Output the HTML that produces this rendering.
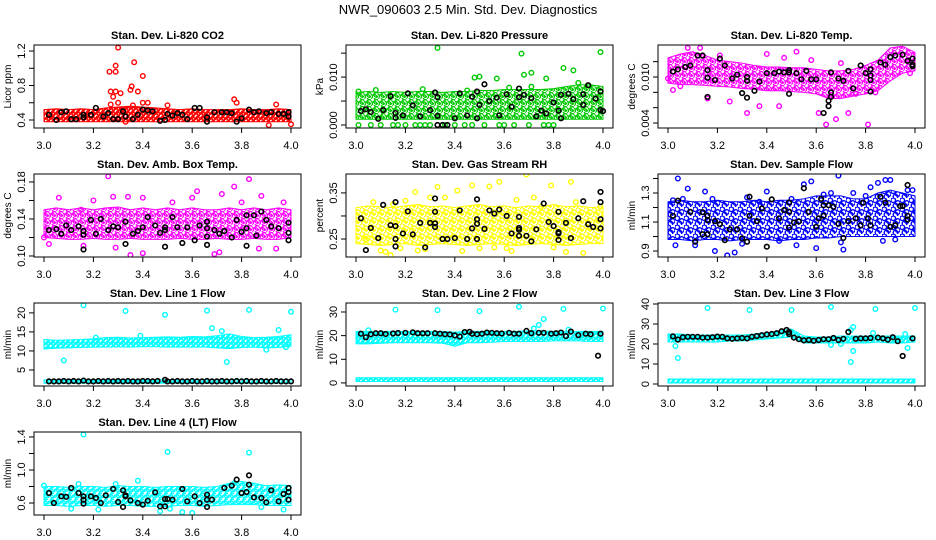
<!DOCTYPE html>
<html><head><meta charset="utf-8"><style>
html,body{margin:0;padding:0;background:#fff;}
svg{display:block;font-family:"Liberation Sans",sans-serif;}
</style></head><body>
<svg id="chart" width="936" height="540" viewBox="0 0 936 540" xmlns="http://www.w3.org/2000/svg">
<rect width="936" height="540" fill="#fff"/>
<text x="468" y="14" text-anchor="middle" font-size="13">NWR_090603  2.5 Min. Std. Dev. Diagnostics</text>
</svg>
<script>
const binX=[3.0,3.05,3.1,3.15,3.2,3.25,3.3,3.35,3.4,3.45,3.5,3.55,3.6,3.65,3.7,3.75,3.8,3.85,3.9,3.95,4.0];
const xTicks=[3.0,3.2,3.4,3.6,3.8,4.0];
const xTickLabels=["3.0","3.2","3.4","3.6","3.8","4.0"];

// P1 CO2
const p1Lo=[0.38,0.38,0.38,0.38,0.38,0.38,0.38,0.38,0.38,0.38,0.38,0.38,0.38,0.38,0.38,0.38,0.38,0.38,0.38,0.38,0.38];
const p1Hi=[0.52,0.53,0.52,0.53,0.52,0.54,0.55,0.56,0.55,0.54,0.53,0.52,0.53,0.52,0.52,0.52,0.53,0.52,0.52,0.53,0.52];
const p1Pts=[[3.30,1.24],[3.29,1.03],[3.365,1.07],[3.265,0.96],[3.29,0.96],[3.40,0.91],[3.355,0.79],[3.35,0.75],[3.38,0.73],[3.27,0.73],[3.29,0.73],[3.31,0.71],[3.28,0.67],[3.40,0.60],[3.42,0.60],[3.77,0.64],[3.78,0.60],[3.94,0.58],[3.91,0.34],[4.0,0.35],[3.33,0.38],[3.50,0.57],[3.27,0.58],[3.30,0.60],[3.36,0.57]];
const p1Blk=[[3.02,0.46],[3.05,0.40],[3.07,0.49],[3.09,0.50],[3.11,0.41],[3.13,0.41],[3.16,0.43],[3.16,0.46],[3.19,0.46],[3.21,0.54],[3.24,0.44],[3.26,0.48],[3.28,0.41],[3.30,0.41],[3.32,0.50],[3.33,0.44],[3.36,0.41],[3.38,0.46],[3.40,0.52],[3.42,0.51],[3.44,0.50],[3.47,0.39],[3.49,0.40],[3.50,0.47],[3.52,0.45],[3.54,0.48],[3.56,0.46],[3.58,0.41],[3.61,0.54],[3.63,0.54],[3.66,0.43],[3.66,0.38],[3.69,0.49],[3.72,0.49],[3.74,0.49],[3.76,0.48],[3.78,0.38],[3.80,0.42],[3.83,0.52],[3.85,0.49],[3.87,0.50],[3.90,0.48],[3.92,0.49],[3.95,0.47],[3.97,0.47],[3.99,0.49],[3.99,0.44]];
const p1Ticks=[0.4,0.6,0.8,1.0,1.2];const p1Labels=["0.4","","0.8","","1.2"];

// P2 Pressure
const p2Lo=[0.0012,0.0012,0.0012,0.0012,0.0012,0.0012,0.0012,0.0012,0.0012,0.0012,0.0012,0.0012,0.0012,0.0012,0.0012,0.0012,0.0012,0.0012,0.0012,0.0012,0.0012];
const p2Hi=[0.0068,0.0070,0.0068,0.0070,0.0068,0.0070,0.0070,0.0068,0.0070,0.0070,0.0072,0.0072,0.0074,0.0074,0.0074,0.0074,0.0076,0.0080,0.0084,0.0084,0.0080];
const p2Pts=[[3.33,0.0161],[3.67,0.0149],[3.99,0.0152],[3.84,0.0119],[3.88,0.0114],[3.71,0.0109],[3.68,0.0105],[3.50,0.0101],[3.48,0.0099],[3.57,0.0097],[3.77,0.0097],[3.01,0],[3.06,0],[3.10,0],[3.15,0],[3.17,0],[3.20,0],[3.24,0],[3.26,0],[3.28,0],[3.30,0],[3.36,0],[3.40,0],[3.44,0],[3.47,0],[3.52,0],[3.58,0],[3.60,0],[3.64,0],[3.70,0],[3.76,0],[3.78,0],[3.80,0],[3.01,0.0070],[3.08,0.0073],[3.27,0.0075],[3.45,0.0072],[3.62,0.0078],[3.71,0.0080],[3.90,0.0088]];
const p2Blk=[[3.02,0.0029],[3.04,0.0033],[3.06,0.0027],[3.09,0.0013],[3.11,0.0031],[3.14,0.0060],[3.16,0.0025],[3.16,0.0015],[3.19,0.0020],[3.21,0.0066],[3.23,0.0041],[3.26,0.0018],[3.30,0.0031],[3.32,0.0068],[3.33,0.0058],[3.33,0.0019],[3.33,0],[3.35,0],[3.37,0],[3.40,0.0014],[3.42,0.0066],[3.45,0.0020],[3.47,0.0059],[3.49,0.0070],[3.50,0.0042],[3.49,0.0014],[3.52,0.0085],[3.54,0.0050],[3.57,0.0057],[3.58,0.0020],[3.61,0.0064],[3.63,0.0038],[3.66,0.0076],[3.66,0.0058],[3.68,0.0063],[3.71,0.0056],[3.73,0.0018],[3.75,0.0030],[3.77,0.0024],[3.80,0.0047],[3.82,0.0030],[3.83,0.0014],[3.83,0.0063],[3.86,0.0065],[3.88,0.0054],[3.92,0.0042],[3.92,0.0064],[3.94,0.0083],[3.97,0.0055],[3.99,0.0031],[3.99,0.0070],[4.0,0.0029]];
const p2Ticks=[0,0.005,0.010,0.015];const p2Labels=["0.000","","0.010",""];

// P3 Temp
const p3Lo=[0.0092,0.0090,0.0090,0.0089,0.0088,0.0087,0.0085,0.0084,0.0082,0.0082,0.0081,0.0080,0.0078,0.0072,0.0072,0.0075,0.0078,0.0082,0.0095,0.0105,0.0108];
const p3Hi=[0.0125,0.0130,0.0133,0.0128,0.0122,0.0120,0.0118,0.0115,0.0113,0.0113,0.0112,0.0112,0.0110,0.0108,0.0108,0.0110,0.0115,0.0122,0.0138,0.0140,0.0132];
const p3Pts=[[3.02,0.0083],[3.05,0.0088],[3.16,0.0072],[3.25,0.0068],[3.32,0.0053],[3.37,0.0062],[3.45,0.0062],[3.61,0.0053],[3.64,0.0038],[3.68,0.0045],[3.81,0.0038],[3.73,0.0053],[3.40,0.0130],[3.52,0.0133],[3.47,0.0125],[3.00,0.0098],[3.08,0.0138],[3.13,0.0138],[3.21,0.0128],[3.58,0.0122],[3.70,0.0118],[3.76,0.0078],[3.84,0.0080],[3.98,0.0105]];
const p3Blk=[[3.02,0.0107],[3.04,0.0110],[3.07,0.0113],[3.09,0.0115],[3.12,0.0128],[3.14,0.0128],[3.16,0.0109],[3.16,0.0099],[3.16,0.0074],[3.19,0.0096],[3.21,0.0124],[3.23,0.0115],[3.26,0.0098],[3.28,0.0103],[3.30,0.0079],[3.32,0.0073],[3.32,0.0100],[3.32,0.0095],[3.35,0.0082],[3.37,0.0094],[3.40,0.0105],[3.43,0.0105],[3.45,0.0107],[3.47,0.0106],[3.49,0.0109],[3.49,0.0106],[3.49,0.0078],[3.52,0.0105],[3.54,0.0097],[3.56,0.0108],[3.58,0.0097],[3.60,0.0097],[3.63,0.0053],[3.65,0.0062],[3.65,0.0069],[3.66,0.0074],[3.66,0.0080],[3.66,0.0106],[3.69,0.0098],[3.71,0.0095],[3.73,0.0108],[3.75,0.0085],[3.78,0.0115],[3.80,0.0105],[3.82,0.0110],[3.82,0.0096],[3.82,0.0102],[3.82,0.0081],[3.86,0.0119],[3.88,0.0116],[3.90,0.0126],[3.92,0.0128],[3.95,0.0129],[3.97,0.0121],[3.99,0.0124],[3.99,0.0114],[3.99,0.0116]];
const p3Ticks=[0.004,0.006,0.008,0.010,0.012];const p3Labels=["0.004","","","0.010",""];

// P4 Amb Box Temp
const p4Lo=[0.120,0.119,0.118,0.118,0.119,0.118,0.118,0.119,0.118,0.118,0.118,0.119,0.118,0.118,0.119,0.118,0.118,0.119,0.118,0.118,0.120];
const p4Hi=[0.150,0.152,0.150,0.152,0.150,0.152,0.153,0.150,0.152,0.150,0.152,0.150,0.152,0.150,0.150,0.152,0.150,0.152,0.150,0.152,0.150];
const p4Pts=[[3.26,0.186],[3.83,0.183],[3.77,0.175],[3.00,0.120],[3.02,0.113],[3.16,0.111],[3.29,0.109],[3.35,0.101],[3.40,0.103],[3.69,0.102],[3.71,0.104],[3.87,0.108],[3.94,0.108],[3.15,0.150],[3.28,0.164],[3.34,0.164],[3.40,0.163],[3.60,0.163],[3.72,0.167],[3.88,0.165],[3.97,0.158],[3.06,0.163],[3.20,0.160],[3.52,0.158],[3.62,0.170],[3.80,0.158]];
const p4Blk=[[3.02,0.128],[3.05,0.129],[3.07,0.124],[3.09,0.133],[3.11,0.128],[3.14,0.132],[3.16,0.127],[3.16,0.123],[3.16,0.107],[3.19,0.139],[3.21,0.124],[3.23,0.140],[3.26,0.128],[3.28,0.132],[3.30,0.131],[3.33,0.137],[3.33,0.113],[3.36,0.124],[3.38,0.127],[3.40,0.131],[3.42,0.142],[3.45,0.133],[3.47,0.125],[3.49,0.131],[3.49,0.128],[3.49,0.110],[3.52,0.142],[3.54,0.131],[3.56,0.114],[3.58,0.131],[3.61,0.117],[3.63,0.133],[3.66,0.137],[3.66,0.130],[3.66,0.121],[3.66,0.112],[3.69,0.128],[3.71,0.124],[3.73,0.127],[3.76,0.120],[3.78,0.139],[3.80,0.126],[3.82,0.130],[3.82,0.144],[3.82,0.111],[3.85,0.144],[3.86,0.122],[3.88,0.148],[3.90,0.139],[3.92,0.132],[3.95,0.130],[3.99,0.136],[3.99,0.125],[3.99,0.117]];
const p4Ticks=[0.10,0.12,0.14,0.16,0.18];const p4Labels=["0.10","","0.14","","0.18"];

// P5 RH
const p5Lo=[0.240,0.238,0.236,0.238,0.240,0.236,0.238,0.240,0.238,0.236,0.238,0.240,0.238,0.236,0.238,0.240,0.238,0.236,0.238,0.240,0.240];
const p5Hi=[0.318,0.322,0.320,0.318,0.322,0.325,0.320,0.322,0.318,0.322,0.325,0.320,0.322,0.318,0.322,0.320,0.325,0.320,0.322,0.318,0.320];
const p5Pts=[[3.69,0.390],[3.58,0.374],[3.87,0.374],[3.47,0.366],[3.54,0.364],[3.79,0.366],[3.33,0.363],[3.24,0.352],[3.41,0.355],[3.07,0.330],[3.15,0.325],[3.20,0.333],[3.10,0.225],[3.25,0.225],[3.14,0.215],[3.43,0.224],[3.61,0.230],[3.85,0.222],[3.99,0.320],[3.65,0.335],[3.75,0.320],[3.50,0.230],[3.30,0.340],[3.92,0.220],[3.04,0.250],[3.18,0.230],[3.36,0.340],[3.56,0.232],[3.72,0.340],[3.89,0.330],[3.12,0.222],[3.28,0.228],[3.63,0.224],[3.80,0.232]];
const p5Blk=[[3.02,0.295],[3.04,0.226],[3.06,0.274],[3.09,0.252],[3.11,0.324],[3.14,0.280],[3.16,0.330],[3.16,0.278],[3.16,0.250],[3.16,0.234],[3.19,0.262],[3.21,0.310],[3.23,0.260],[3.26,0.285],[3.28,0.232],[3.30,0.285],[3.32,0.338],[3.32,0.309],[3.32,0.284],[3.32,0.276],[3.35,0.250],[3.37,0.250],[3.40,0.252],[3.42,0.312],[3.45,0.250],[3.47,0.273],[3.49,0.293],[3.49,0.283],[3.49,0.336],[3.49,0.250],[3.52,0.272],[3.54,0.312],[3.56,0.305],[3.58,0.314],[3.61,0.300],[3.63,0.262],[3.66,0.298],[3.66,0.274],[3.66,0.270],[3.66,0.257],[3.69,0.257],[3.71,0.245],[3.73,0.271],[3.76,0.327],[3.78,0.287],[3.80,0.278],[3.82,0.309],[3.82,0.265],[3.82,0.262],[3.82,0.248],[3.85,0.285],[3.87,0.252],[3.90,0.295],[3.92,0.332],[3.94,0.282],[3.96,0.276],[3.99,0.352],[3.99,0.330],[3.99,0.293],[3.99,0.273]];
const p5Ticks=[0.25,0.30,0.35];const p5Labels=["0.25","","0.35"];

// P6 Sample Flow
const p6Lo=[0.98,0.98,0.97,0.98,0.98,0.97,0.98,0.98,0.98,0.97,0.98,0.98,0.99,0.99,1.00,1.00,1.00,1.00,1.00,1.00,1.00];
const p6Hi=[1.24,1.25,1.24,1.24,1.25,1.24,1.24,1.25,1.24,1.25,1.25,1.26,1.28,1.28,1.28,1.26,1.26,1.30,1.32,1.30,1.28];
const p6Pts=[[3.03,0.94],[3.04,1.40],[3.08,1.33],[3.15,1.31],[3.32,1.27],[3.40,1.31],[3.55,1.36],[3.58,1.38],[3.69,1.42],[3.71,0.91],[3.82,1.34],[3.85,1.37],[3.88,1.39],[3.90,1.39],[3.97,1.32],[3.99,1.32],[3.19,0.90],[3.24,0.87],[3.27,0.89],[3.60,0.92],[3.45,0.97],[3.11,0.94],[3.92,0.98],[3.75,1.30],[3.02,1.25],[3.06,1.26],[3.18,1.26],[3.37,1.24],[3.50,1.26],[3.63,1.29],[3.66,1.30],[3.80,1.28],[3.30,0.95],[3.52,0.94],[3.70,0.96],[3.87,0.97]];
const p6Blk=[[3.02,1.143],[3.04,1.247],[3.09,1.170],[3.11,0.964],[3.14,1.168],[3.16,1.143],[3.16,1.113],[3.16,1.016],[3.14,1.016],[3.19,1.106],[3.21,1.085],[3.23,0.975],[3.25,1.050],[3.28,1.050],[3.30,0.987],[3.32,0.964],[3.33,1.274],[3.33,1.143],[3.36,1.106],[3.38,1.193],[3.40,0.930],[3.42,1.256],[3.45,1.125],[3.47,1.182],[3.49,1.171],[3.49,1.062],[3.49,1.235],[3.51,1.097],[3.53,1.104],[3.55,1.333],[3.57,1.170],[3.60,1.067],[3.61,1.125],[3.62,1.260],[3.63,1.216],[3.63,1.143],[3.65,1.216],[3.67,1.205],[3.69,1.088],[3.71,0.990],[3.73,1.106],[3.76,1.125],[3.78,1.077],[3.79,1.233],[3.81,1.125],[3.82,1.077],[3.86,1.274],[3.88,1.233],[3.90,1.067],[3.92,1.077],[3.94,1.210],[3.95,1.210],[3.97,1.355],[3.97,1.143],[3.97,1.118]];
const p6Ticks=[0.9,1.0,1.1,1.2,1.3,1.4];const p6Labels=["0.9","","1.1","","1.3",""];

// P7 Line 1 Flow
const p7Lo=[10.5,10.7,10.8,10.9,11.0,11.0,11.1,11.0,11.1,11.1,11.0,11.0,11.0,11.0,10.8,10.6,10.9,11.0,10.8,10.9,11.2];
const p7Hi=[13.0,12.8,12.9,13.0,13.2,13.5,13.6,13.4,13.5,13.6,13.7,13.6,13.8,13.7,14.0,14.5,13.8,13.5,13.6,13.8,14.3];
const p7Lo2=[1.5,1.5,1.5,1.5,1.5,1.5,1.5,1.5,1.5,1.5,1.5,1.5,1.5,1.5,1.5,1.5,1.5,1.5,1.5,1.5,1.5];
const p7Hi2=[2.4,2.4,2.5,2.4,2.4,2.4,2.5,2.4,2.4,2.5,2.4,2.4,2.4,2.5,2.4,2.4,2.5,2.4,2.4,2.4,2.4];
const p7Pts=[[3.16,22.0],[3.33,20.5],[3.49,19.5],[3.66,20.6],[3.83,20.8],[4.0,20.3],[3.08,7.5],[3.74,7.1],[3.68,16.0],[3.95,15.5],[3.72,15.2],[3.39,14.0],[3.21,13.5],[3.98,11.0],[3.90,10.3]];
const p7Blk=[[3.02,2.0],[3.04,2.0],[3.06,2.0],[3.08,2.1],[3.10,2.0],[3.12,2.1],[3.14,2.0],[3.16,2.2],[3.18,2.0],[3.20,2.0],[3.22,2.1],[3.24,2.0],[3.26,2.1],[3.28,2.0],[3.30,2.1],[3.32,2.0],[3.34,2.1],[3.36,2.0],[3.38,2.0],[3.40,2.1],[3.42,2.1],[3.44,2.0],[3.46,2.1],[3.49,2.4],[3.50,2.0],[3.52,2.0],[3.54,2.1],[3.56,2.0],[3.58,2.0],[3.60,2.1],[3.62,2.0],[3.64,2.0],[3.66,2.1],[3.68,2.0],[3.70,2.0],[3.72,2.1],[3.74,2.0],[3.76,2.0],[3.78,2.1],[3.80,2.0],[3.82,2.1],[3.84,2.0],[3.86,2.0],[3.88,2.1],[3.90,2.0],[3.92,2.0],[3.94,2.1],[3.96,2.0],[3.98,2.0],[4.0,2.0]];
const p7Ticks=[5,10,15,20];const p7Labels=["5","10","15","20"];

// P8 Line 2 Flow
const p8Lo=[16.5,16.5,16.8,17.0,17.0,17.0,17.0,16.8,15.5,17.0,17.0,17.2,17.5,17.5,17.5,17.5,17.8,17.8,17.8,17.5,17.5];
const p8Hi=[21.8,21.8,21.8,21.8,21.8,21.8,21.8,21.8,21.5,21.8,21.8,21.8,21.8,21.8,22.0,22.0,21.8,21.8,21.8,21.8,21.8];
const p8Lo2=[0.6,0.6,0.6,0.6,0.6,0.6,0.6,0.6,0.6,0.6,0.6,0.6,0.6,0.6,0.6,0.6,0.6,0.6,0.6,0.6,0.6];
const p8Hi2=[2.2,2.2,2.2,2.2,2.2,2.2,2.2,2.2,2.2,2.2,2.2,2.2,2.2,2.2,2.2,2.2,2.2,2.2,2.2,2.2,2.2];
const p8Pts=[[3.16,31.0],[3.33,30.8],[3.50,30.3],[3.66,32.2],[3.84,31.3],[4.0,31.5],[3.74,24.5],[3.76,27.0],[3.72,23.0],[3.86,22.5],[3.05,22.3]];
const p8Blk=[[3.02,20.8],[3.04,19.3],[3.06,20.6],[3.08,21.0],[3.10,21.0],[3.12,20.7],[3.15,20.9],[3.17,21.1],[3.20,21.2],[3.23,21.4],[3.25,21.0],[3.27,21.0],[3.29,21.0],[3.32,21.0],[3.34,20.8],[3.36,20.6],[3.38,20.5],[3.40,20.1],[3.42,19.6],[3.44,21.5],[3.46,21.6],[3.47,20.8],[3.49,20.6],[3.51,20.8],[3.53,21.3],[3.55,21.2],[3.57,21.0],[3.59,20.9],[3.62,21.2],[3.64,20.8],[3.66,20.8],[3.69,22.0],[3.71,21.0],[3.74,21.2],[3.76,21.2],[3.79,20.8],[3.81,21.0],[3.83,21.3],[3.85,19.8],[3.87,21.7],[3.90,20.2],[3.93,20.8],[3.95,20.6],[3.98,11.5],[3.99,20.8]];
const p8Ticks=[0,10,20,30];const p8Labels=["0","10","20","30"];

// P9 Line 3 Flow
const p9Lo=[21.0,21.0,21.0,21.0,21.0,21.5,21.5,22.0,22.5,23.0,23.5,20.5,20.5,20.5,20.5,20.5,20.5,21.0,20.5,20.5,21.0];
const p9Hi=[25.0,25.0,24.5,24.5,24.5,24.5,24.5,25.0,25.5,26.5,27.5,24.0,23.5,23.5,24.0,24.0,24.0,24.0,24.0,24.0,24.0];
const p9Lo2=[0.5,0.5,0.5,0.5,0.5,0.5,0.5,0.5,0.5,0.5,0.5,0.5,0.5,0.5,0.5,0.5,0.5,0.5,0.5,0.5,0.5];
const p9Hi2=[2.5,2.5,2.5,2.5,2.5,2.5,2.5,2.5,2.5,2.5,2.5,2.5,2.5,2.5,2.5,2.5,2.5,2.5,2.5,2.5,2.5];
const p9Pts=[[3.16,38.0],[3.33,37.0],[3.50,37.0],[3.66,38.5],[3.84,37.5],[4.0,38.0],[3.04,13.0],[3.03,19.0],[3.74,11.0],[3.75,16.5],[3.74,27.0],[3.75,28.5],[3.66,19.5],[3.70,20.0],[3.97,18.0],[3.96,25.0],[3.83,25.5]];
const p9Blk=[[3.02,23.8],[3.04,22.2],[3.06,23.4],[3.08,23.6],[3.10,23.6],[3.12,23.6],[3.14,23.2],[3.16,23.2],[3.18,23.4],[3.20,23.7],[3.22,23.6],[3.24,22.8],[3.26,22.6],[3.28,22.8],[3.30,23.0],[3.32,22.8],[3.34,23.6],[3.36,24.0],[3.38,24.4],[3.40,24.8],[3.42,25.0],[3.44,25.4],[3.46,26.4],[3.48,27.0],[3.49,26.0],[3.49,25.0],[3.51,23.2],[3.53,22.4],[3.55,21.8],[3.57,22.0],[3.59,21.6],[3.61,22.0],[3.63,22.4],[3.65,22.4],[3.67,23.0],[3.69,22.0],[3.71,22.6],[3.73,26.0],[3.76,22.6],[3.78,22.8],[3.80,22.8],[3.82,23.0],[3.85,23.2],[3.87,22.8],[3.89,22.2],[3.91,23.4],[3.93,21.4],[3.95,14.0],[3.99,22.8]];
const p9Ticks=[0,10,20,30,40];const p9Labels=["0","10","20","30","40"];

// P10 Line 4 (LT) Flow
const p10Lo=[0.57,0.57,0.56,0.57,0.57,0.56,0.57,0.57,0.56,0.56,0.56,0.57,0.57,0.56,0.57,0.58,0.58,0.58,0.57,0.57,0.57];
const p10Hi=[0.80,0.80,0.79,0.80,0.80,0.79,0.81,0.80,0.80,0.79,0.80,0.80,0.80,0.79,0.80,0.84,0.86,0.84,0.81,0.82,0.81];
const p10Pts=[[3.16,1.43],[3.50,1.22],[3.83,1.21],[3.47,0.50],[3.56,0.49],[3.60,0.48],[3.97,0.52],[3.38,0.87],[3.77,0.84],[3.51,0.53],[3.00,0.81],[3.14,0.83],[3.29,0.83],[3.22,0.52],[3.11,0.53],[3.88,0.55]];
const p10Blk=[[3.02,0.721],[3.04,0.600],[3.07,0.681],[3.09,0.675],[3.11,0.782],[3.14,0.721],[3.16,0.681],[3.16,0.640],[3.16,0.592],[3.19,0.681],[3.21,0.661],[3.23,0.600],[3.25,0.693],[3.28,0.770],[3.30,0.612],[3.32,0.754],[3.33,0.693],[3.32,0.552],[3.33,0.681],[3.35,0.632],[3.38,0.600],[3.40,0.580],[3.42,0.628],[3.45,0.729],[3.47,0.560],[3.49,0.560],[3.49,0.648],[3.50,0.648],[3.52,0.640],[3.56,0.770],[3.58,0.620],[3.61,0.681],[3.63,0.600],[3.66,0.701],[3.66,0.640],[3.66,0.552],[3.68,0.640],[3.73,0.782],[3.76,0.810],[3.78,0.883],[3.80,0.721],[3.82,0.733],[3.83,0.822],[3.83,0.935],[3.85,0.669],[3.88,0.661],[3.90,0.608],[3.92,0.754],[3.95,0.620],[3.97,0.709],[3.99,0.782],[3.99,0.733],[3.99,0.640]];
const p10Ticks=[0.6,0.8,1.0,1.2,1.4];const p10Labels=["0.6","","1.0","","1.4"];

const NS="http://www.w3.org/2000/svg";
const svg=document.getElementById('chart');
function mk(tag,attrs,parent){const e=document.createElementNS(NS,tag);for(const k in attrs)e.setAttribute(k,attrs[k]);(parent||svg).appendChild(e);return e;}

const panels=[
 {key:'co2',title:'Stan. Dev. Li-820 CO2',ylab:'Licor ppm',col:0,row:0,ymin:0.307,ymax:1.27,color:'#ff0000',sp:2.5,bands:[[p1Lo,p1Hi]],pts:p1Pts,blk:p1Blk,ticks:p1Ticks,labels:p1Labels},
 {key:'pressure',title:'Stan. Dev. Li-820 Pressure',ylab:'kPa',col:1,row:0,ymin:-0.000625,ymax:0.0167,color:'#00c800',sp:3.5,bands:[[p2Lo,p2Hi]],pts:p2Pts,blk:p2Blk,ticks:p2Ticks,labels:p2Labels},
 {key:'temp',title:'Stan. Dev. Li-820 Temp.',ylab:'degrees C',col:2,row:0,ymin:0.00335,ymax:0.01417,color:'#ff00ff',sp:3.5,bands:[[p3Lo,p3Hi]],pts:p3Pts,blk:p3Blk,ticks:p3Ticks,labels:p3Labels},
 {key:'ambbox',title:'Stan. Dev. Amb. Box Temp.',ylab:'degrees C',col:0,row:1,ymin:0.0989,ymax:0.1886,color:'#ff00ff',sp:3.5,bands:[[p4Lo,p4Hi]],pts:p4Pts,blk:p4Blk,ticks:p4Ticks,labels:p4Labels},
 {key:'rh',title:'Stan. Dev. Gas Stream RH',ylab:'percent',col:1,row:1,ymin:0.211,ymax:0.391,color:'#ffff00',sp:4,bands:[[p5Lo,p5Hi]],pts:p5Pts,blk:p5Blk,ticks:p5Ticks,labels:p5Labels},
 {key:'sampleflow',title:'Stan. Dev. Sample Flow',ylab:'ml/min',col:2,row:1,ymin:0.859,ymax:1.431,color:'#0000ff',sp:4.5,bands:[[p6Lo,p6Hi]],pts:p6Pts,blk:p6Blk,ticks:p6Ticks,labels:p6Labels},
 {key:'line1',title:'Stan. Dev. Line 1 Flow',ylab:'ml/min',col:0,row:2,ymin:0.79,ymax:22.6,color:'#00ffff',sp:2.5,bands:[[p7Lo,p7Hi],[p7Lo2,p7Hi2]],pts:p7Pts,blk:p7Blk,ticks:p7Ticks,labels:p7Labels},
 {key:'line2',title:'Stan. Dev. Line 2 Flow',ylab:'ml/min',col:1,row:2,ymin:-1.3,ymax:33.8,color:'#00ffff',sp:2.5,bands:[[p8Lo,p8Hi],[p8Lo2,p8Hi2]],pts:p8Pts,blk:p8Blk,ticks:p8Ticks,labels:p8Labels},
 {key:'line3',title:'Stan. Dev. Line 3 Flow',ylab:'ml/min',col:2,row:2,ymin:-1.0,ymax:40.5,color:'#00ffff',sp:2.5,bands:[[p9Lo,p9Hi],[p9Lo2,p9Hi2]],pts:p9Pts,blk:p9Blk,ticks:p9Ticks,labels:p9Labels},
 {key:'line4',title:'Stan. Dev. Line 4 (LT) Flow',ylab:'ml/min',col:0,row:3,ymin:0.455,ymax:1.46,color:'#00ffff',sp:3,bands:[[p10Lo,p10Hi]],pts:p10Pts,blk:p10Blk,ticks:p10Ticks,labels:p10Labels}
];
const colLeft=[34,346,658], rowTop=[45,174,303,432], W=267, H=83;
const defs=mk('defs',{});

panels.forEach(p=>{
 const L=colLeft[p.col], T=rowTop[p.row], B=T+H;
 const pat=mk('pattern',{id:'pat-'+p.key,width:p.sp*2,height:p.sp*2,patternUnits:'userSpaceOnUse'},defs);
 mk('circle',{cx:p.sp*0.5,cy:p.sp*0.5,r:2.3,fill:'none',stroke:p.color,'stroke-width':1.4},pat);
 mk('circle',{cx:p.sp*1.5,cy:p.sp*1.1,r:2.3,fill:'none',stroke:p.color,'stroke-width':1.4},pat);
 mk('circle',{cx:p.sp*1.0,cy:p.sp*1.7,r:2.3,fill:'none',stroke:p.color,'stroke-width':1.4},pat);
 const g=mk('g',{});
 
 
 const xs=v=>L+10+(v-3.0)/1.0*(W-20);
 const ys=v=>B-(v-p.ymin)/(p.ymax-p.ymin)*H;
 const clip=mk('clipPath',{id:'clip-'+p.key},g);
 mk('rect',{x:L,y:T,width:W,height:H},clip);
 const plot=mk('g',{'clip-path':'url(#clip-'+p.key+')'},g);
 
 
 p.bands.forEach((bd,bi)=>{
   const lo=bd[0],hi=bd[1];
   let pts=[];
   for(let i=0;i<binX.length;i++)pts.push(xs(binX[i])+','+ys(hi[i]));
   for(let i=binX.length-1;i>=0;i--)pts.push(xs(binX[i])+','+ys(lo[i]));
   const poly=mk('polygon',{points:pts.join(' '),fill:'url(#pat-'+p.key+')',stroke:p.color,'stroke-width':1,'stroke-linejoin':'round'},plot);
   
   
 });
 p.pts.forEach(d=>{
   const c=mk('circle',{cx:xs(d[0]),cy:ys(d[1]),r:2.3,fill:'none',stroke:p.color,'stroke-width':1.4},plot);
   
   
 });
 p.blk.forEach(d=>{
   const c=mk('circle',{cx:xs(d[0]),cy:ys(d[1]),r:2.3,fill:'none',stroke:'#000','stroke-width':1.6},plot);
   
   
 });
 const box=mk('rect',{x:L,y:T,width:W,height:H,fill:'none',stroke:'#000','stroke-width':1},g);
 
 
 const xa=mk('g',{},g);
 
 
 mk('line',{x1:xs(xTicks[0]),x2:xs(xTicks[xTicks.length-1]),y1:B,y2:B,stroke:'#000'},xa);
 xTicks.forEach((t,i)=>{
   mk('line',{x1:xs(t),x2:xs(t),y1:B,y2:B+5,stroke:'#000'},xa);
   const tx=mk('text',{x:xs(t),y:B+21,'text-anchor':'middle','font-size':11},xa);
   
   
   tx.textContent=xTickLabels[i];
 });
 const ya=mk('g',{},g);
 
 
 mk('line',{x1:L,x2:L,y1:ys(p.ticks[0]),y2:ys(p.ticks[p.ticks.length-1]),stroke:'#000'},ya);
 p.ticks.forEach((t,i)=>{
   const y=ys(t);
   mk('line',{x1:L-5,x2:L,y1:y,y2:y,stroke:'#000'},ya);
   if(p.labels[i]){
     const tx=mk('text',{x:L-9,y:y,'text-anchor':'middle','font-size':11,transform:'rotate(-90 '+(L-9)+' '+y+')'},ya);
     
     
     tx.textContent=p.labels[i];
   }
 });
 const yl=mk('text',{x:L-23,y:T+H/2,'text-anchor':'middle','font-size':10,transform:'rotate(-90 '+(L-23)+' '+(T+H/2)+')'},g);
 
 
 yl.textContent=p.ylab;
 const tt=mk('text',{x:L+W/2,y:T-6,'text-anchor':'middle','font-size':11,'font-weight':'bold'},g);
 
 
 tt.textContent=p.title;
});
</script>
</body></html>
